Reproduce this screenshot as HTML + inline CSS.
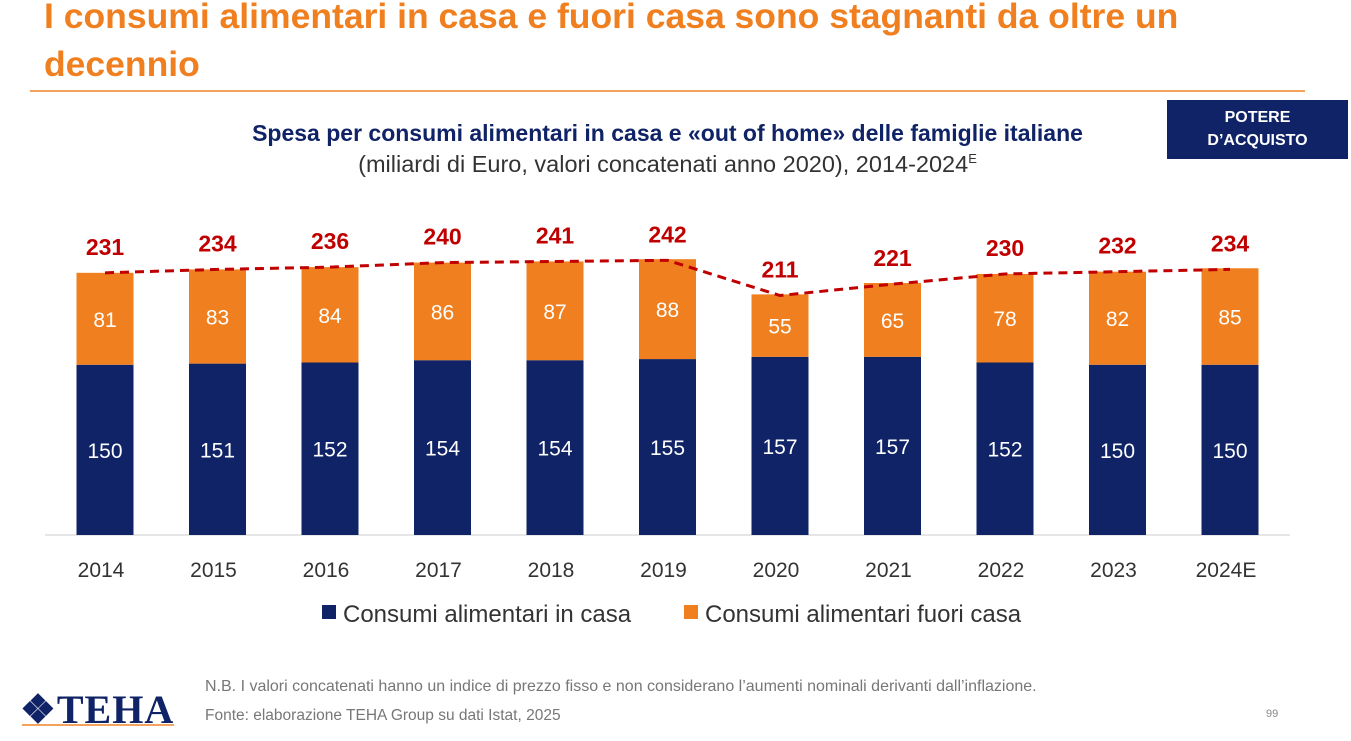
<!DOCTYPE html>
<html><head><meta charset="utf-8"><style>
body{margin:0;width:1351px;height:741px;background:#fff;overflow:hidden;position:relative;font-family:"Liberation Sans",sans-serif}
.t{position:absolute;left:44px;top:-8px;color:#f07f1f;font-size:35.5px;font-weight:bold;line-height:48px;margin:0}
.hr{position:absolute;left:30px;top:90px;width:1275px;height:2px;background:#f3a35e}
.box{position:absolute;left:1167px;top:100px;width:181px;height:59px;background:#0f2366;color:#fff;font-weight:bold;font-size:16px;text-align:center;line-height:23px;padding-top:6px;box-sizing:border-box}
.st{position:absolute;left:0;width:1335px;text-align:center;color:#0f2366}
</style></head><body>
<h1 class="t">I consumi alimentari in casa e fuori casa sono stagnanti da oltre un<br>decennio</h1>
<div class="hr"></div>
<div class="box">POTERE<br>D’ACQUISTO</div>
<div class="st" style="top:120px;font-size:23px;font-weight:bold">Spesa per consumi alimentari in casa e «out of home» delle famiglie italiane</div>
<div class="st" style="top:151px;font-size:23.5px;color:#333">(miliardi di Euro, valori concatenati anno 2020), 2014-2024<sup style="font-size:13px">E</sup></div>
<svg id="c" width="1351" height="741" style="position:absolute;left:0;top:0"></svg>
<div style="position:absolute;left:20px;top:686px;font-family:'Liberation Serif',serif;font-size:40px;color:#0f2366;font-weight:bold;letter-spacing:1px">&#10070;TEHA</div>
<div style="position:absolute;left:22px;top:724px;width:152px;height:2px;background:#f3a35e"></div>
<div style="position:absolute;left:205px;top:678px;font-size:16px;color:#777">N.B. I valori concatenati hanno un indice di prezzo fisso e non considerano l’aumenti nominali derivanti dall’inflazione.</div>
<div style="position:absolute;left:205px;top:707px;font-size:15.5px;color:#777">Fonte: elaborazione TEHA Group su dati Istat, 2025</div>
<div style="position:absolute;left:1266px;top:708px;font-size:11px;color:#888">99</div>
<script>
const years=["2014","2015","2016","2017","2018","2019","2020","2021","2022","2023","2024E"];
const inCasa=[150,151,152,154,154,155,157,157,152,150,150];
const fuoriCasa=[81,83,84,86,87,88,55,65,78,82,85];
const totals=[231,234,236,240,241,242,211,221,230,232,234];
const svg=document.getElementById('c');const NS='http://www.w3.org/2000/svg';
const base=535,k=1.135,x0=105,step=112.5,bw=57;
const X=i=>x0+i*step, Y=v=>base-v*k;
function mk(t,a,txt){const e=document.createElementNS(NS,t);for(const p in a)e.setAttribute(p,a[p]);if(txt!=null)e.textContent=txt;svg.appendChild(e);return e;}
const ax=mk('line',{x1:45,x2:1290,y1:base,y2:base,stroke:'#ccc'});


let pts=[];
years.forEach((y,i)=>{
 const cx=X(i),t1=Y(inCasa[i]),t2=Y(inCasa[i]+fuoriCasa[i]);
 const b=mk('rect',{x:cx-bw/2,y:t1,width:bw,height:base-t1,fill:'#0f2366'});
 
 
 const o=mk('rect',{x:cx-bw/2,y:t2,width:bw,height:t1-t2,fill:'#f07f1f'});
 
 
 const a=mk('text',{x:cx,y:(t1+base)/2+8,fill:'#fff','font-size':21,'text-anchor':'middle'},inCasa[i]);
 
 
 const b2=mk('text',{x:cx,y:(t1+t2)/2+8,fill:'#fff','font-size':21,'text-anchor':'middle'},fuoriCasa[i]);
 
 
 const tt=mk('text',{x:cx,y:Y(totals[i])-18,fill:'#c00000','font-size':23,'font-weight':'bold','text-anchor':'middle'},totals[i]);
 
 
 const xl=mk('text',{x:cx-4,y:577,fill:'#333','font-size':21,'text-anchor':'middle'},y);
 
 
 pts.push(cx+','+Y(totals[i]));
});
const pl=mk('polyline',{points:pts.join(' '),fill:'none',stroke:'#c00000','stroke-width':3,'stroke-dasharray':'9,6'});


const legend=[["Consumi alimentari in casa",'#0f2366',322],["Consumi alimentari fuori casa",'#f07f1f',684]];
legend.forEach(l=>{
 const r=mk('rect',{x:l[2],y:605,width:14,height:14,fill:l[1]});
 
 
 const t=mk('text',{x:l[2]+21,y:622,fill:'#333','font-size':24},l[0]);
 
 
});
</script>
</body></html>
